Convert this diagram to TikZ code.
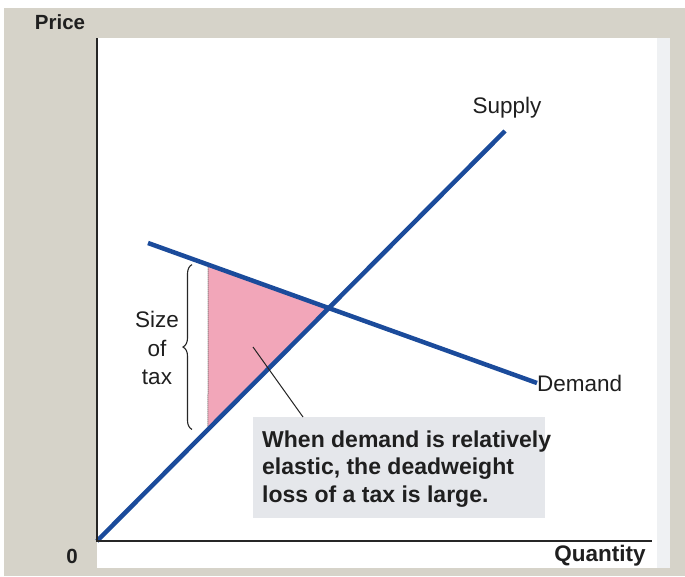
\documentclass[tikz,border=0pt]{standalone}
\usepackage{fontspec}
\setmainfont{Liberation Sans}
\usetikzlibrary{decorations.pathreplacing,calc}

\definecolor{hintergrund}{HTML}{D6D3C9}
\definecolor{kurvenblau}{HTML}{1B4B9B}
\definecolor{verlust}{HTML}{F2A6B9}
\definecolor{kasten}{HTML}{E5E7EB}

\begin{document}
\begin{tikzpicture}[x=1pt, y=-1pt, >=latex,
		kurve/.style={line width=4.5pt, color=kurvenblau},
		beschr/.style={font=\fontsize{22.5}{28.5}\selectfont, text=black!88, inner sep=0pt},
		fett/.style={font=\fontsize{22.5}{28}\selectfont\bfseries, text=black!88, inner sep=0pt}]
	\useasboundingbox (0,0) rectangle (685,576);
	\fill[hintergrund] (4,8) rectangle (685,576);
	\fill[white] (97,38) rectangle (670,568);
	\fill[kasten!60] (657,38) rectangle (670,568); %rechter Rand
	% Punkte der Kurven
	\coordinate (O) at (97,541);
	\coordinate (S) at (505,131);
	\coordinate (D1) at (148,243);
	\coordinate (D2) at (537,383);
	\coordinate (E) at (intersection of O--S and D1--D2);
	\coordinate (T) at (intersection of D1--D2 and 208,0--208,600);
	\coordinate (B) at (intersection of O--S and 208,0--208,600);
	% Wohlfahrtsverlust
	\fill[verlust] (T) -- (E) -- (B) -- cycle;
	\draw[black!60, densely dotted, line width=1pt] (T) -- (B);
	\draw [kurve] (O) -- (S);
	\draw [kurve] (D1) -- (D2);
	\draw [line width=1.8pt, black!85] (97,38) -- (O) -- (652,541);
	\draw [black!85, line width=1.1pt, decorate, decoration={brace, amplitude=9pt}]
		($(B)+(-16,0)$) -- ($(T)+(-16,0)$);
	\fill[kasten] (253,417) rectangle (545,518); %Kasten
	% Texte
	\node[fett, font=\fontsize{20.5}{24}\selectfont\bfseries] (preis) at (60,22) {Price};
	\node[fett] (menge) at (600,556) {Quantity};
	\node[fett, font=\fontsize{20.5}{24}\selectfont\bfseries] (null) at (72,556) {0};
	\node[beschr] (angebot) at (507,108) {Supply};
	\node[beschr, anchor=west] (nachfrage) at (D2) {Demand};
	\node[beschr, align=center] (steuer) at (157,348) {Size\\of\\tax};
	\node[fett, align=left, anchor=base west,
		font=\fontsize{23}{27.5}\selectfont\bfseries] (hinweis) at (262,502)
		{When demand is relatively\\elastic, the deadweight\\loss of a tax is large.};
	\coordinate (zeiger) at (253,347);
	\coordinate (zeigerende) at (303,417);
	\draw[black!85, line width=1pt] (zeiger) -- (zeigerende);
\end{tikzpicture}
\end{document}
